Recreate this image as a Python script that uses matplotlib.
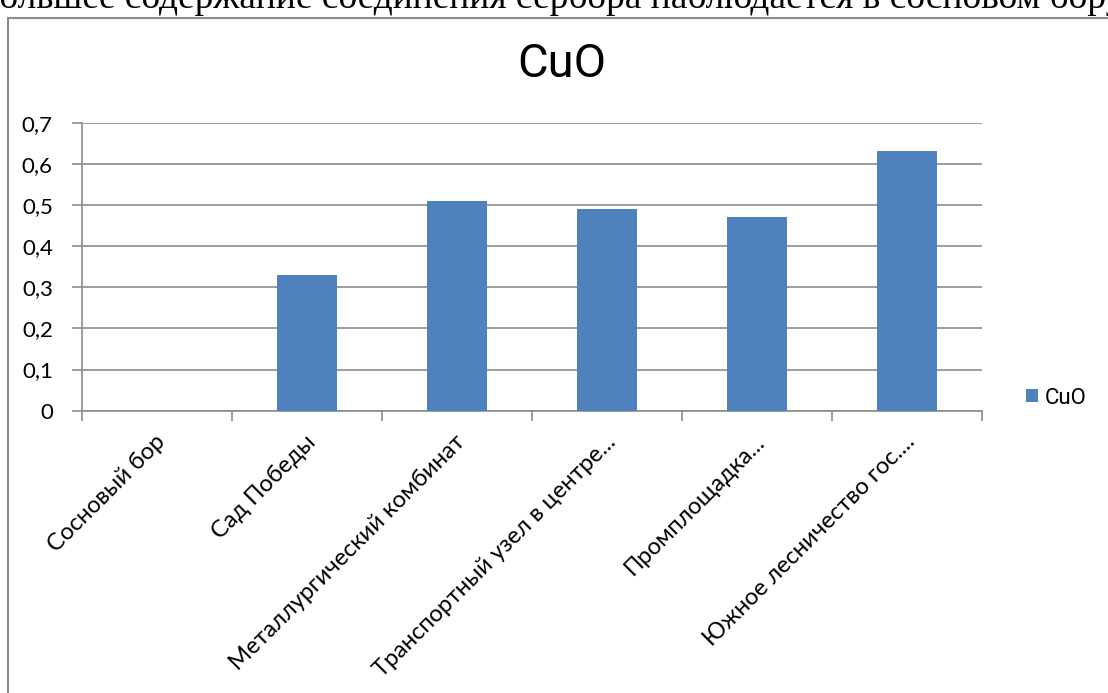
import matplotlib

matplotlib.use("Agg")
import matplotlib.pyplot as plt
from matplotlib.patches import Rectangle

categories = [
    "Сосновый бор",
    "Сад Победы",
    "Металлургический комбинат",
    "Транспортный узел в центре...",
    "Промплощадка...",
    "Южное лесничество гос....",
]
cuo_values = [0.0, 0.33, 0.51, 0.49, 0.47, 0.63]
y_ticks = [0.0, 0.1, 0.2, 0.3, 0.4, 0.5, 0.6, 0.7]
y_tick_labels = ["0", "0,1", "0,2", "0,3", "0,4", "0,5", "0,6", "0,7"]
series_name = "CuO"
caption = "Большее содержание соединения сербора наблюдается в сосновом бору"

W, H = 1108, 693
BAR_COLOR = "#4f81bd"
GRID_COLOR = "#8c8c8c"
SANS = ["Lato", "DejaVu Sans"]
NARROW = ["Roboto", "DejaVu Sans"]

fig = plt.figure(figsize=(W / 100, H / 100), dpi=100)

# document text above the chart, cut by the page edge
fig.text(0.497, 1 - 8 / H, caption, ha="center", va="baseline",
         fontsize=27, family=["Liberation Serif", "DejaVu Serif"])

# chart area border
fig.patches.append(Rectangle((8 / W, -0.1), 1.2, 1 - 18 / H + 0.1,
                             transform=fig.transFigure, fill=False,
                             edgecolor="#8a8a8a", linewidth=1.5))

ax = fig.add_axes([82 / W, 1 - 410.7 / H, 900 / W, 288 / H])
x = list(range(len(categories)))
ax.bar(x, cuo_values, width=0.4, color=BAR_COLOR, label=series_name, zorder=3)

ax.set_xlim(-0.5, len(categories) - 0.5)
ax.set_ylim(0, 0.7)
ax.set_yticks(y_ticks)
ax.set_yticklabels(y_tick_labels, family=SANS, fontsize=16)
ax.yaxis.grid(True, color=GRID_COLOR, linewidth=1.2, zorder=0)
ax.tick_params(axis="y", length=7, width=1.2, color=GRID_COLOR, pad=14)

# category boundaries as x ticks, labels at the centres
ax.set_xticks([i - 0.5 for i in range(len(categories) + 1)])
ax.set_xticklabels([])
ax.tick_params(axis="x", length=7, width=1.2, color=GRID_COLOR, direction="out")
for i, name in enumerate(categories):
    ax.annotate(name, xy=(i, 0), xycoords=("data", "axes fraction"),
                xytext=(5, -28), textcoords="offset pixels",
                rotation=45, rotation_mode="anchor", ha="right", va="center",
                fontsize=17, family=SANS)

for side in ("top", "right"):
    ax.spines[side].set_visible(False)
ax.spines["left"].set_color(GRID_COLOR)
ax.spines["left"].set_linewidth(1.2)
ax.spines["bottom"].set_color(GRID_COLOR)
ax.spines["bottom"].set_linewidth(1.2)

fig.text(562 / W, 1 - 77 / H, series_name, ha="center", va="baseline",
         fontsize=34, family=NARROW)

ax.legend(loc="center left", bbox_to_anchor=(1026 / W, 1 - 398 / H),
          bbox_transform=fig.transFigure, frameon=False, borderpad=0,
          borderaxespad=0, handlelength=0.55, handleheight=0.55,
          handletextpad=0.3, prop={"family": NARROW, "size": 16})

fig.savefig("out.png", dpi=100)
